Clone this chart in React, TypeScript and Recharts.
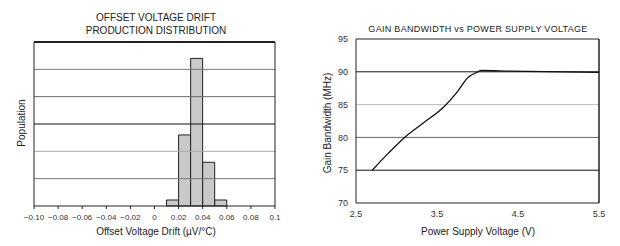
import React from 'react';
import { BarChart, Bar, LineChart, Line, XAxis, YAxis, ReferenceLine } from 'recharts';

// histogram: bin start (µV/°C) and population (grid units)
const binStarts = [0.01, 0.02, 0.03, 0.04, 0.05];
const binCounts = [0.22, 2.6, 5.4, 1.6, 0.22];
const binWidth = 0.01;
const driftTicks = [-0.1, -0.08, -0.06, -0.04, -0.02, 0, 0.02, 0.04, 0.06, 0.08, 0.1];
const driftTickLabels = ['\u22120.10', '\u22120.08', '\u22120.06', '\u22120.04', '\u22120.02', '0', '0.02', '0.04', '0.06', '0.08', '0.1'];
const popGrid = [1, 2, 3, 4, 5];

// gain bandwidth vs supply
const supplyV = [2.7, 2.9, 3.1, 3.33, 3.58, 3.74, 3.89, 3.99, 4.05, 4.4, 5.5];
const gbwMHz = [75, 77.6, 80.0, 82.2, 84.6, 86.8, 89.2, 89.9, 90.2, 90.1, 89.9];
const vTicks = [2.5, 3.5, 4.5, 5.5];
const gbwTicks = [70, 75, 80, 85, 90, 95];
const gbwGrid = [75, 80, 85, 90];

const histData = binStarts.map((s, i) => ({ center: s + binWidth / 2, count: binCounts[i] }));
const gbwData = supplyV.map((v, i) => ({ v, gbw: gbwMHz[i] }));

const font = '"Liberation Sans", Arial, sans-serif';
const ink = '#222';

const popGridColors = ['#777', '#aaa', '#111', '#666', '#777'];
const gbwGridColors = ['#111', '#666', '#bbb', '#111'];

const Text: React.FC<{ x: number; y: number; size: number; rotate?: boolean; spacing?: number; children: React.ReactNode }> = ({ x, y, size, rotate, spacing, children }) => (
  <div
    style={{
      position: 'absolute',
      left: x,
      top: y,
      transform: `translate(-50%, -50%)${rotate ? ' rotate(-90deg)' : ''}`,
      whiteSpace: 'nowrap',
      fontSize: size,
      color: ink,
      letterSpacing: spacing ?? 0,
      lineHeight: 1,
    }}
  >
    {children}
  </div>
);

const DriftHistogram = () => (
  <div style={{ position: 'absolute', left: 0, top: 0, width: 310, height: 246 }}>
    <BarChart width={310} height={246} data={histData} margin={{ top: 42, right: 35, bottom: 0, left: 34 }} barCategoryGap={0} barGap={0}>
      <XAxis
        dataKey="center"
        type="number"
        domain={[-0.1, 0.1]}
        ticks={driftTicks}
        interval={0}
        tickFormatter={(_v: number, i: number) => driftTickLabels[i]}
        height={40}
        tickSize={3}
        tickMargin={5}
        axisLine={{ stroke: ink }}
        tickLine={{ stroke: ink }}
        tick={{ fontSize: 8, fill: '#333', fontFamily: font }}
      />
      <YAxis domain={[0, 6]} hide />
      {popGrid.map((g, i) => (
        <ReferenceLine key={g} y={g} stroke={popGridColors[i]} strokeWidth={1} />
      ))}
      <ReferenceLine y={6} stroke={ink} strokeWidth={2} />
      <ReferenceLine x={-0.1} stroke={ink} strokeWidth={1} />
      <ReferenceLine x={0.1} stroke={ink} strokeWidth={1} />
      <Bar dataKey="count" fill="#c9c9c9" stroke={ink} strokeWidth={1} isAnimationActive={false} />
    </BarChart>
    <Text x={156} y={18} size={10}>OFFSET VOLTAGE DRIFT</Text>
    <Text x={156} y={31} size={10}>PRODUCTION DISTRIBUTION</Text>
    <Text x={22} y={123} size={10} rotate>Population</Text>
    <Text x={156} y={232} size={10}>Offset Voltage Drift (µV/°C)</Text>
  </div>
);

const GainBandwidth = () => (
  <div style={{ position: 'absolute', left: 310, top: 0, width: 310, height: 246 }}>
    <LineChart width={310} height={246} data={gbwData} margin={{ top: 39, right: 21, bottom: 0, left: 0 }}>
      <XAxis
        dataKey="v"
        type="number"
        domain={[2.5, 5.5]}
        ticks={vTicks}
        interval={0}
        height={43}
        tickLine={false}
        axisLine={{ stroke: ink }}
        tick={{ fontSize: 9, fill: '#333', fontFamily: font }}
      />
      <YAxis
        type="number"
        domain={[70, 95]}
        ticks={gbwTicks}
        interval={0}
        width={46}
        tickLine={false}
        axisLine={{ stroke: ink }}
        tick={{ fontSize: 9, fill: '#333', fontFamily: font }}
      />
      {gbwGrid.map((g, i) => (
        <ReferenceLine key={g} y={g} stroke={gbwGridColors[i]} strokeWidth={1} />
      ))}
      <ReferenceLine y={95} stroke={ink} strokeWidth={1} />
      <ReferenceLine x={5.5} stroke={ink} strokeWidth={1.5} />
      <Line type="monotone" dataKey="gbw" stroke="#111" strokeWidth={1.3} dot={false} isAnimationActive={false} />
    </LineChart>
    <Text x={168} y={29} size={9} spacing={0.3}>GAIN BANDWIDTH vs POWER SUPPLY VOLTAGE</Text>
    <Text x={18} y={123} size={10} rotate>Gain Bandwidth (MHz)</Text>
    <Text x={168} y={232} size={10}>Power Supply Voltage (V)</Text>
  </div>
);

export default function App() {
  return (
    <div style={{ position: 'absolute', left: 0, top: 0, width: 620, height: 246, background: '#fff', fontFamily: font, overflow: 'hidden' }}>
      <DriftHistogram />
      <GainBandwidth />
    </div>
  );
}
